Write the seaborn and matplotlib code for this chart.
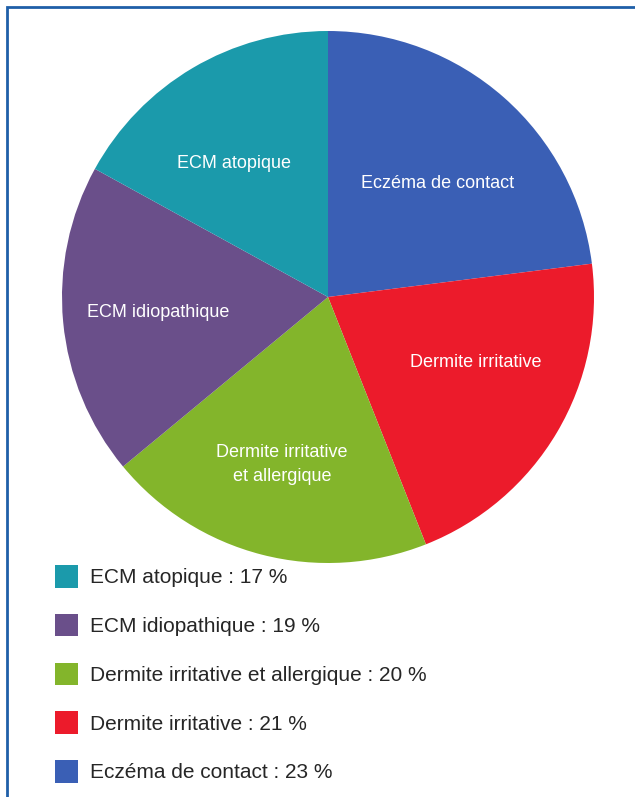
import matplotlib
matplotlib.use("Agg")
import matplotlib.pyplot as plt
from matplotlib.patches import Rectangle
import seaborn as sns

# data, clockwise from 12 o'clock
categories = ["Eczéma de contact", "Dermite irritative",
              "Dermite irritative et allergique", "ECM idiopathique", "ECM atopique"]
slice_labels = ["Eczéma de contact", "Dermite irritative",
                "Dermite irritative\net allergique", "ECM idiopathique", "ECM atopique"]
percents = [23, 21, 20, 19, 17]
colors = ["#3a5fb5", "#ec1b2b", "#83b52b", "#6a4f8a", "#1b9aab"]

sns.set_style("white")
plt.rcParams['font.family'] = ['Liberation Sans', 'DejaVu Sans']

W, H = 635, 797
fig = plt.figure(figsize=(W / 100, H / 100), dpi=100)

# pie axes, centre ~ (328, 297) px, radius ~266 px
cx, cy, r = 328, 297, 266
ax = fig.add_axes([(cx - r) / W, (H - cy - r) / H, 2 * r / W, 2 * r / H])
wedges, texts = ax.pie(percents, labels=slice_labels, colors=colors,
                       startangle=90, counterclock=False, labeldistance=0.62,
                       textprops=dict(color="white", fontsize=13),
                       wedgeprops=dict(linewidth=0))

# small hand nudges of the in-slice labels (pixels: right, down)
nudges = [(0, 10), (6, -18), (-5, 8), (-6, 0), (-10, 8)]
for t, (dx, dy) in zip(texts, nudges):
    x, y = t.get_position()
    t.set_position((x + dx / r, y - dy / r))
    t.set_horizontalalignment("center")
    t.set_verticalalignment("center")
    t.set_multialignment("center")
    t.set_linespacing(1.55)
ax.set_xlim(-1, 1)
ax.set_ylim(-1, 1)

# legend, listed in reverse order
order = list(range(len(categories)))[::-1]
handles = [wedges[i] for i in order]
leg_labels = [f"{categories[i]} : {percents[i]} %" for i in order]
fig.legend(handles, leg_labels, loc="upper left",
           bbox_to_anchor=(55 / W, 1 - 565 / H), frameon=False,
           fontsize=15, handlelength=1.12, handleheight=1.3,
           handletextpad=0.55, labelspacing=1.25, borderpad=0, borderaxespad=0)

# blue frame (right and bottom edges fall outside the picture)
fig.add_artist(Rectangle((7 / W, -0.05), 1.0, 1 - 7 / H + 0.05,
                         transform=fig.transFigure, fill=False,
                         edgecolor="#1f5fa8", linewidth=2))

fig.savefig("out.png", dpi=100)
